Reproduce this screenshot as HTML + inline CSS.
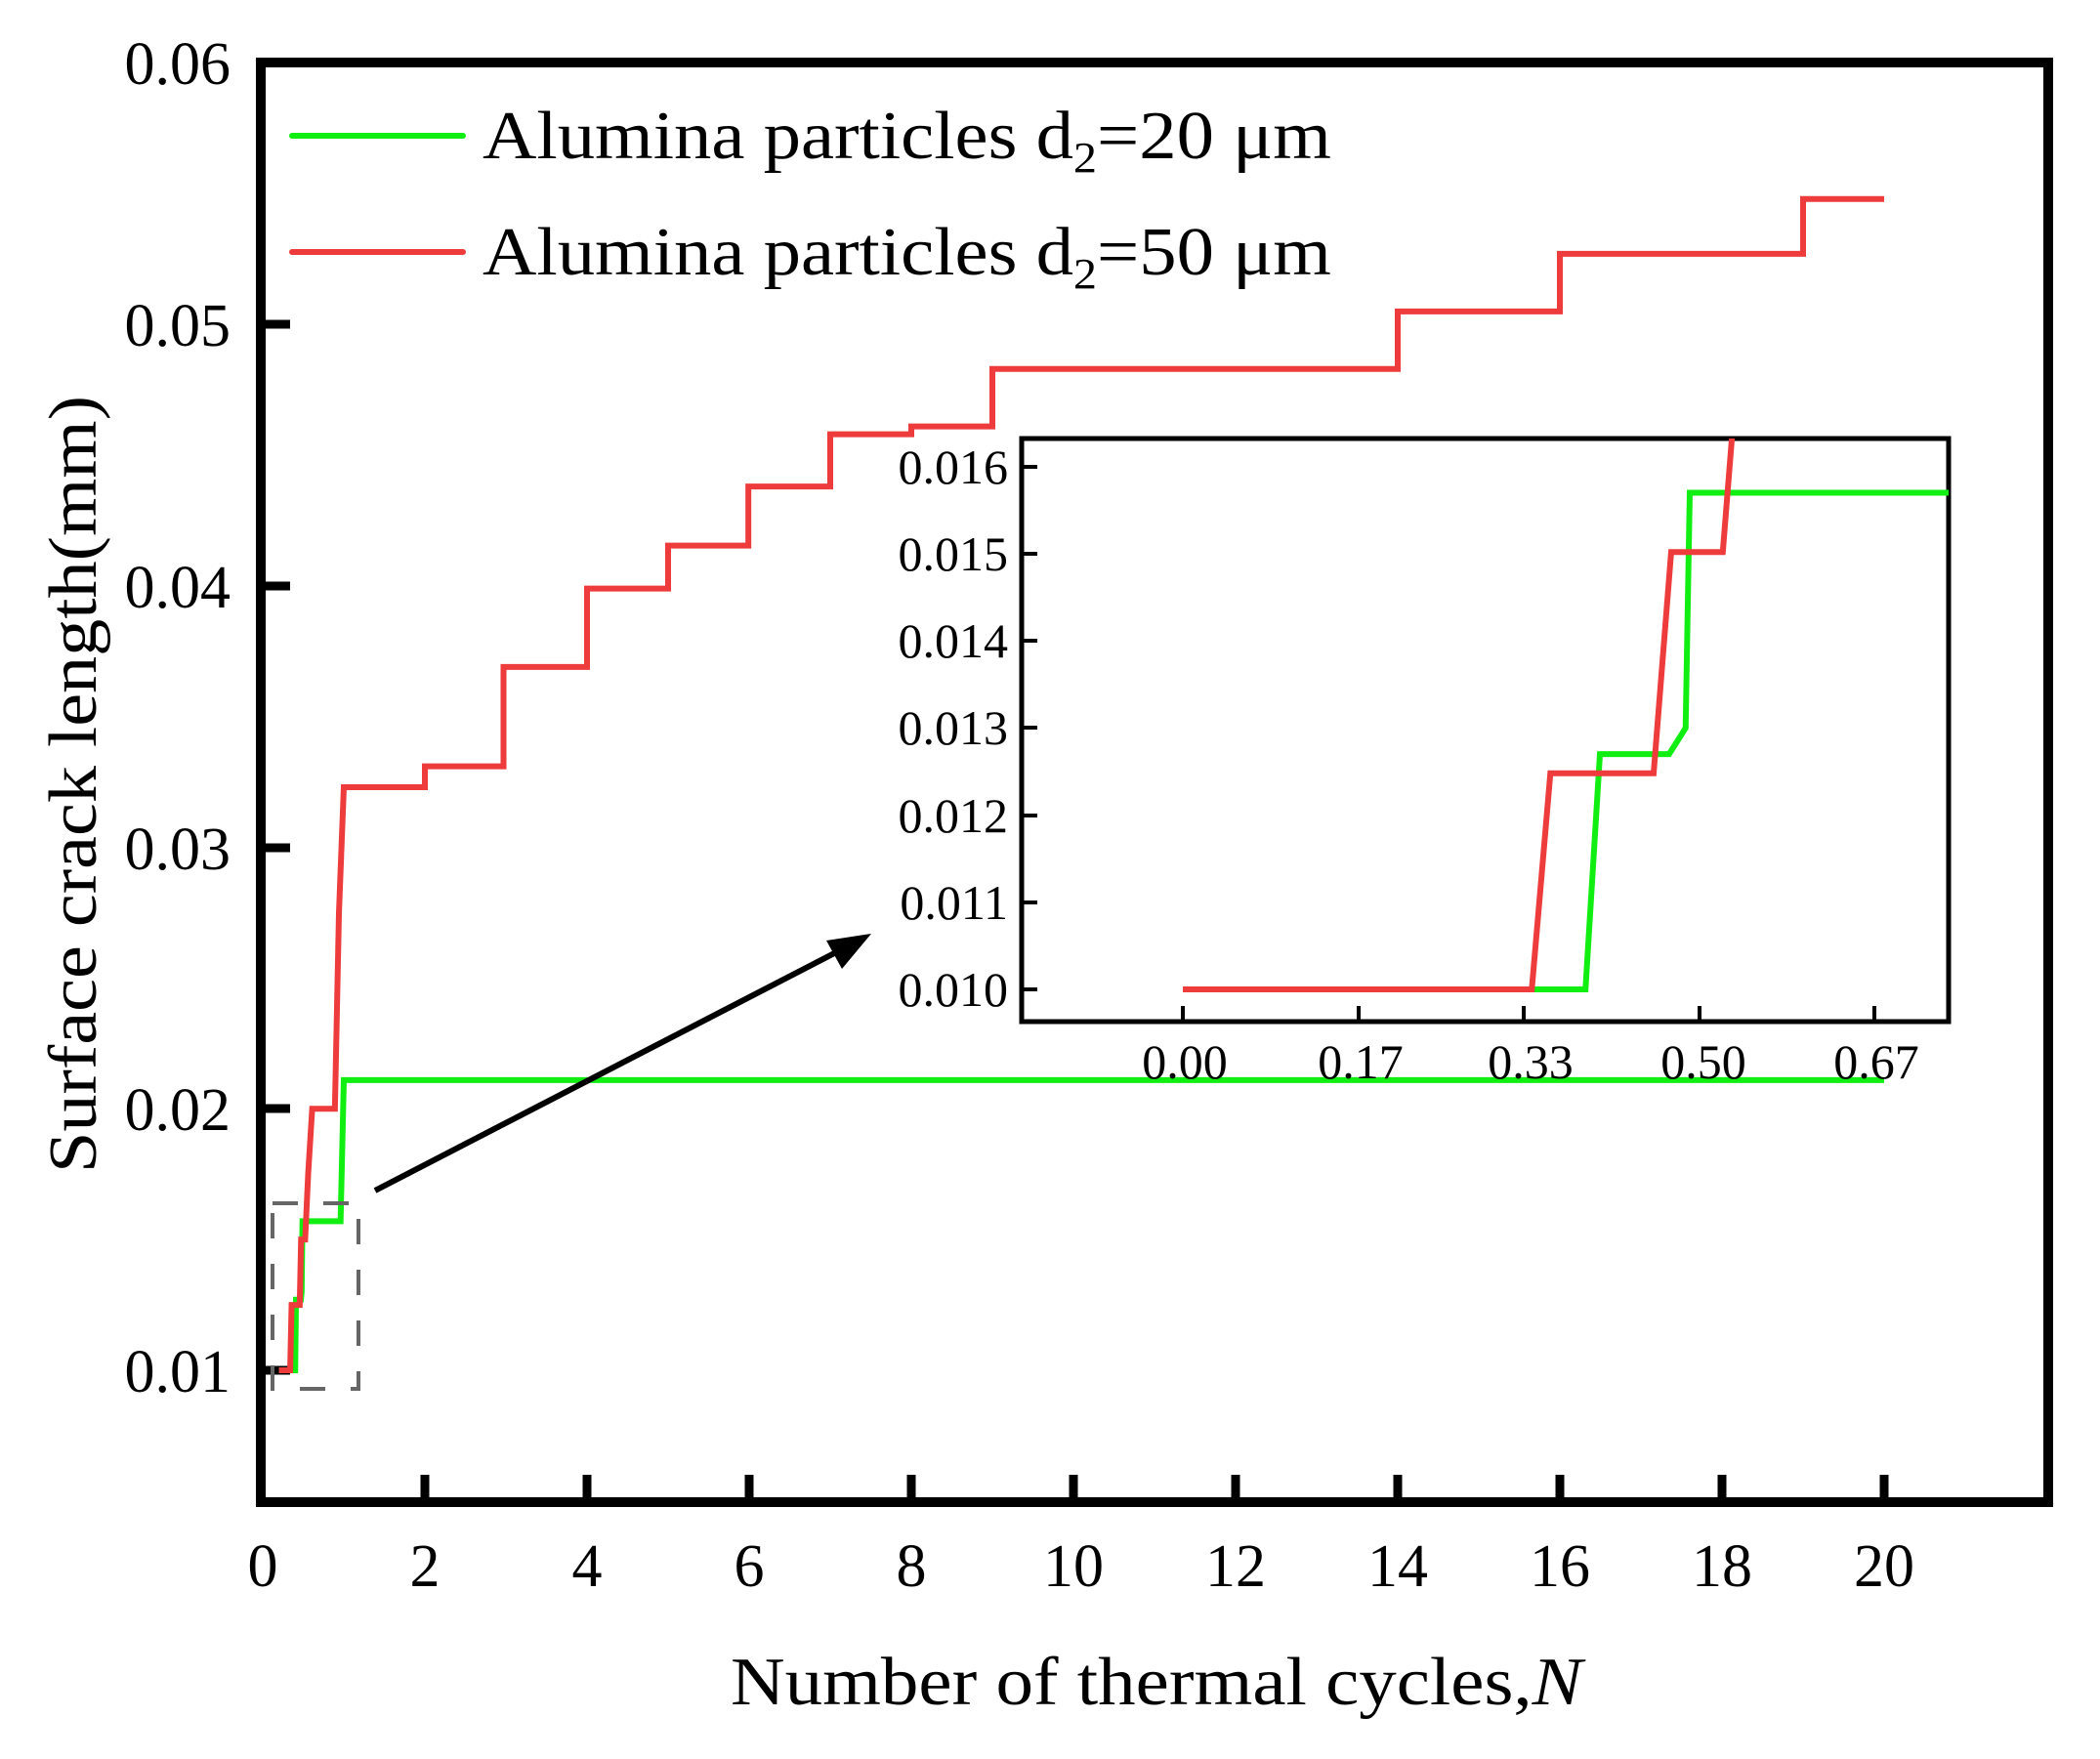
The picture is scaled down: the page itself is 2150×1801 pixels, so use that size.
<!DOCTYPE html>
<html><head><meta charset="utf-8"><style>html,body{margin:0;padding:0;background:#fff}svg{display:block}svg text{font-family:"Liberation Serif","Times New Roman",serif}</style></head><body>
<svg width="2150" height="1801" viewBox="0 0 2150 1801" xmlns="http://www.w3.org/2000/svg" font-family="'Liberation Serif', serif">
<defs>
<clipPath id="ci"><rect x="1046" y="449" width="949" height="597"/></clipPath>
</defs>
<rect x="267" y="64" width="1830" height="1474" fill="none" stroke="#000" stroke-width="10"/>
<g stroke="#000" stroke-width="9">
<line x1="267" y1="1403" x2="297" y2="1403"/><line x1="267" y1="1135" x2="297" y2="1135"/>
<line x1="267" y1="868" x2="297" y2="868"/><line x1="267" y1="600" x2="297" y2="600"/>
<line x1="267" y1="332" x2="297" y2="332"/>
</g>
<g stroke="#000" stroke-width="9">
<line x1="435" y1="1538" x2="435" y2="1510"/><line x1="601" y1="1538" x2="601" y2="1510"/>
<line x1="767" y1="1538" x2="767" y2="1510"/><line x1="933" y1="1538" x2="933" y2="1510"/>
<line x1="1099" y1="1538" x2="1099" y2="1510"/><line x1="1265" y1="1538" x2="1265" y2="1510"/>
<line x1="1431" y1="1538" x2="1431" y2="1510"/><line x1="1597" y1="1538" x2="1597" y2="1510"/>
<line x1="1763" y1="1538" x2="1763" y2="1510"/><line x1="1929" y1="1538" x2="1929" y2="1510"/>
</g>
<g font-size="62" text-anchor="end" fill="#000">
<text x="236" y="86">0.06</text><text x="236" y="354">0.05</text><text x="236" y="622">0.04</text>
<text x="236" y="890">0.03</text><text x="236" y="1157">0.02</text><text x="236" y="1425">0.01</text>
</g>
<g font-size="62" text-anchor="middle" fill="#000">
<text x="269" y="1624">0</text><text x="435" y="1624">2</text><text x="601" y="1624">4</text><text x="767" y="1624">6</text>
<text x="933" y="1624">8</text><text x="1099" y="1624">10</text><text x="1265" y="1624">12</text><text x="1431" y="1624">14</text>
<text x="1597" y="1624">16</text><text x="1763" y="1624">18</text><text x="1929" y="1624">20</text>
</g>
<text x="1184" y="1745" font-size="70" text-anchor="middle" textLength="872" lengthAdjust="spacingAndGlyphs">Number of thermal cycles,<tspan font-style="italic">N</tspan></text>
<text transform="translate(98,803) rotate(-90)" font-size="70" text-anchor="middle" textLength="796" lengthAdjust="spacingAndGlyphs">Surface crack length(mm)</text>
<line x1="299" y1="139" x2="474" y2="139" stroke="#11ee11" stroke-width="6" stroke-linecap="round"/>
<line x1="299" y1="258" x2="474" y2="258" stroke="#ee3b3b" stroke-width="6" stroke-linecap="round"/>
<text x="494" y="162" font-size="70" textLength="869" lengthAdjust="spacingAndGlyphs">Alumina particles d<tspan font-size="44" dy="14">2</tspan><tspan dy="-14">=20 μm</tspan></text>
<text x="494" y="281" font-size="70" textLength="869" lengthAdjust="spacingAndGlyphs">Alumina particles d<tspan font-size="44" dy="14">2</tspan><tspan dy="-14">=50 μm</tspan></text>
<g transform="translate(269,1403) scale(83,-26770) translate(0,-0.01)" fill="none" stroke-linejoin="miter">
<polyline vector-effect="non-scaling-stroke" stroke="#11ee11" stroke-width="6" points="0.2,0.010 0.4,0.010 0.41,0.0127 0.47,0.0127 0.48,0.013 0.49,0.0157 0.96,0.0157 1.0,0.0211 20,0.0211"/>
<polyline vector-effect="non-scaling-stroke" stroke="#ee3b3b" stroke-width="6" points="0.2,0.010 0.338,0.010 0.356,0.0125 0.456,0.0125 0.473,0.015 0.523,0.015 0.56,0.0175 0.61,0.020 0.89,0.020 0.94,0.0275 1.0,0.0323 2.0,0.0323 2.0,0.0331 2.97,0.0331 2.97,0.0369 4.0,0.0369 4.0,0.0399 5.0,0.0399 5.0,0.04154 5.99,0.04154 5.99,0.0438 7.0,0.0438 7.0,0.0458 8.0,0.0458 8.0,0.0461 9.0,0.0461 9.0,0.0483 14.0,0.0483 14.0,0.0505 16.0,0.0505 16.0,0.0527 19.0,0.0527 19.0,0.0548 20.0,0.0548"/>
</g>
<rect x="279" y="1232" width="88" height="190" fill="none" stroke="#666" stroke-width="4" stroke-dasharray="26,26"/>
<line x1="384" y1="1219" x2="860" y2="973" stroke="#000" stroke-width="6"/>
<polygon points="892,956 846,963 862,992" fill="#000"/>
<rect x="1046" y="449" width="949" height="597" fill="#fff" stroke="#000" stroke-width="5"/>
<g stroke="#000" stroke-width="4">
<line x1="1046" y1="1013" x2="1062" y2="1013"/><line x1="1046" y1="924" x2="1062" y2="924"/>
<line x1="1046" y1="835" x2="1062" y2="835"/><line x1="1046" y1="745" x2="1062" y2="745"/>
<line x1="1046" y1="656" x2="1062" y2="656"/><line x1="1046" y1="567" x2="1062" y2="567"/>
<line x1="1046" y1="478" x2="1062" y2="478"/>
<line x1="1211" y1="1046" x2="1211" y2="1030"/><line x1="1391" y1="1046" x2="1391" y2="1030"/>
<line x1="1560" y1="1046" x2="1560" y2="1030"/><line x1="1740" y1="1046" x2="1740" y2="1030"/>
<line x1="1919" y1="1046" x2="1919" y2="1030"/>
</g>
<g font-size="50" text-anchor="end" fill="#000">
<text x="1032" y="1030">0.010</text><text x="1032" y="941">0.011</text><text x="1032" y="852">0.012</text>
<text x="1032" y="762">0.013</text><text x="1032" y="673">0.014</text><text x="1032" y="584">0.015</text>
<text x="1032" y="495">0.016</text>
</g>
<g font-size="50" text-anchor="middle" fill="#000">
<text x="1213" y="1104">0.00</text><text x="1393" y="1104">0.17</text><text x="1567" y="1104">0.33</text>
<text x="1744" y="1104">0.50</text><text x="1921" y="1104">0.67</text>
</g>
<g clip-path="url(#ci)">
<g transform="translate(1211,1013) scale(1057,-89200) translate(0,-0.01)" fill="none">
<polyline vector-effect="non-scaling-stroke" stroke="#11ee11" stroke-width="6" points="0,0.010 0.390,0.010 0.404,0.0127 0.471,0.0127 0.487,0.0130 0.491,0.0157 0.80,0.0157"/>
<polyline vector-effect="non-scaling-stroke" stroke="#ee3b3b" stroke-width="6" points="0,0.010 0.338,0.010 0.356,0.01248 0.456,0.01248 0.473,0.01502 0.523,0.01502 0.535,0.0168"/>
</g>
</g>
</svg>
</body></html>
